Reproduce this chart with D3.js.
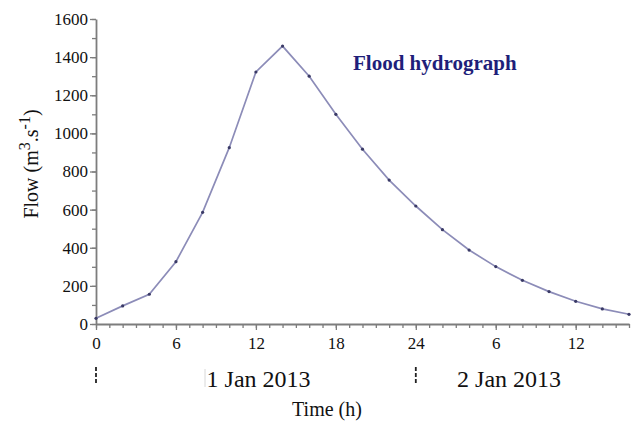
<!DOCTYPE html>
<html>
<head>
<meta charset="utf-8">
<script src="https://cdn.jsdelivr.net/npm/d3@7"></script>
<style>
  body { margin: 0; background: #fff; }
  svg { display: block; }
  text { font-family: "Liberation Serif", "Times New Roman", serif; }
</style>
</head>
<body>
<svg id="chart" width="632" height="421"></svg>
<script>
// Hours since 00:00 on 1 Jan 2013, sampled every 2 h
const hours = [0, 2, 4, 6, 8, 10, 12, 14, 16, 18, 20, 22, 24, 26, 28, 30, 32, 34, 36, 38, 40];
// Discharge in m3/s
const flow = [30, 95, 156, 327, 586, 925, 1322, 1458, 1300, 1100, 917, 755, 619, 495, 388, 301, 229, 170, 119, 79, 51];

const xTickValues = [0, 6, 12, 18, 24, 30, 36];
const xTickLabels = ["0", "6", "12", "18", "24", "6", "12"];
const yTickValues = [0, 200, 400, 600, 800, 1000, 1200, 1400, 1600];
const dayLabels = [{ at: 12.2, text: "1 Jan 2013" }, { at: 31, text: "2 Jan 2013" }];
const dayBreaks = [0, 24];

const svg = d3.select("#chart");
const x = d3.scaleLinear().domain([0, 40]).range([96, 629]);
const y = d3.scaleLinear().domain([0, 1600]).range([324, 19]);

const axisColor = "#7d7d7d";
const labelFont = "Liberation Serif, Times New Roman, serif";

// Y axis: minor ticks every 100, labelled ticks every 200
const yAxis = svg.append("g").attr("transform", `translate(${x(0)},0)`);
yAxis.call(d3.axisLeft(y).tickValues(d3.range(0, 1601, 100)).tickSize(4).tickFormat("").tickSizeOuter(0));
yAxis.selectAll(".tick line").attr("stroke", axisColor).attr("stroke-width", 1.3);
yAxis.select(".domain").attr("stroke", axisColor).attr("stroke-width", 1.8);
const yMajor = svg.append("g").attr("transform", `translate(${x(0)},0)`);
yMajor.call(d3.axisLeft(y).tickValues(yTickValues).tickSize(6).tickPadding(2).tickFormat(d3.format("d")));
yMajor.select(".domain").remove();
yMajor.selectAll(".tick line").attr("stroke", axisColor).attr("stroke-width", 1.3);
yMajor.selectAll(".tick text").attr("font-size", 17).attr("fill", "#111").attr("font-family", labelFont);

// X axis: minor ticks every hour, labelled ticks every 6 h
const xAxis = svg.append("g").attr("transform", `translate(0,${y(0)})`);
xAxis.call(d3.axisBottom(x).tickValues(d3.range(0, 41, 1)).tickSize(4).tickFormat("").tickSizeOuter(0));
xAxis.selectAll(".tick line").attr("stroke", axisColor).attr("stroke-width", 1.3);
xAxis.select(".domain").attr("stroke", axisColor).attr("stroke-width", 1.8);
const xMajor = svg.append("g").attr("transform", `translate(0,${y(0)})`);
xMajor.call(d3.axisBottom(x).tickValues(xTickValues).tickSize(6).tickPadding(7)
  .tickFormat((d, i) => xTickLabels[i]));
xMajor.select(".domain").remove();
xMajor.selectAll(".tick line").attr("stroke", axisColor).attr("stroke-width", 1.3);
xMajor.selectAll(".tick text").attr("font-size", 17).attr("fill", "#111").attr("font-family", labelFont);

// Hydrograph line and sample points
const line = d3.line().x((d, i) => x(hours[i])).y(d => y(d));
svg.append("path").datum(flow)
  .attr("d", line)
  .attr("fill", "none")
  .attr("stroke", "#8c8cb8")
  .attr("stroke-width", 1.7);
svg.append("g").selectAll("circle").data(flow).join("circle")
  .attr("cx", (d, i) => x(hours[i]))
  .attr("cy", d => y(d))
  .attr("r", 1.6)
  .attr("fill", "#3a3a66");

// Day separators and day labels
svg.append("g").selectAll("line").data(dayBreaks).join("line")
  .attr("x1", d => x(d)).attr("x2", d => x(d))
  .attr("y1", 367).attr("y2", 384)
  .attr("stroke", "#222").attr("stroke-width", 1.8)
  .attr("stroke-dasharray", "4,2");
svg.append("line")
  .attr("x1", 205).attr("x2", 205).attr("y1", 369).attr("y2", 387)
  .attr("stroke", "#d8d8d8").attr("stroke-width", 1);
svg.append("g").selectAll("text").data(dayLabels).join("text")
  .attr("x", d => x(d.at))
  .attr("y", 387)
  .attr("text-anchor", "middle")
  .attr("font-size", 24)
  .attr("fill", "#111")
  .text(d => d.text);

// Axis titles
svg.append("text")
  .attr("x", 327).attr("y", 416)
  .attr("text-anchor", "middle")
  .attr("font-size", 20)
  .attr("fill", "#111")
  .text("Time (h)");

const yTitle = svg.append("text")
  .attr("transform", "translate(38,164) rotate(-90)")
  .attr("text-anchor", "middle")
  .attr("font-size", 20)
  .attr("fill", "#111");
yTitle.append("tspan").text("Flow (m");
yTitle.append("tspan").attr("dy", -8).attr("font-size", 16).text("3");
yTitle.append("tspan").attr("dy", 8).text(".s");
yTitle.append("tspan").attr("dy", -8).attr("font-size", 16).text("-1");
yTitle.append("tspan").attr("dy", 8).text(")");

// Chart title
svg.append("text")
  .attr("x", 353).attr("y", 70)
  .attr("font-size", 21)
  .attr("font-weight", "bold")
  .attr("fill", "#1f1f7a")
  .text("Flood hydrograph");
</script>
</body>
</html>
